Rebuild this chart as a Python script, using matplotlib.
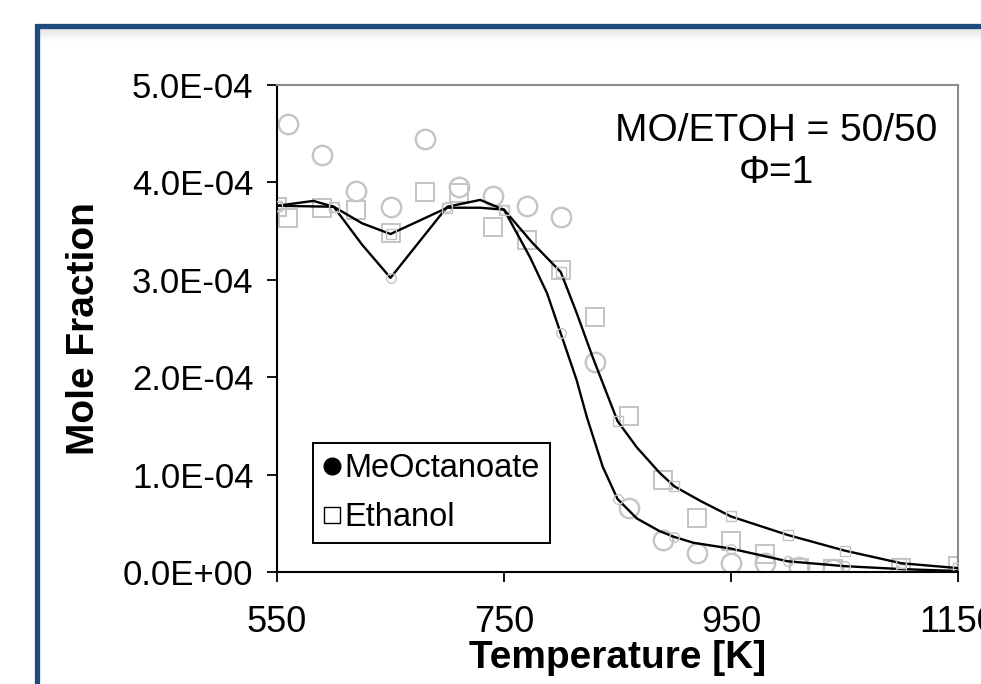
import numpy as np
import matplotlib.pyplot as plt
from matplotlib.lines import Line2D
from matplotlib.patches import Rectangle
from matplotlib.ticker import FuncFormatter

plt.rcParams['font.family'] = ['Liberation Sans', 'DejaVu Sans']

# experimental data (mole fraction in units of 1e-4)
mo_T = [560, 590, 620, 650, 680, 710, 740, 770, 800, 830, 860, 890, 920, 950, 980, 1010, 1040]
mo_X = [4.60, 4.28, 3.91, 3.75, 4.45, 3.95, 3.86, 3.76, 3.64, 2.16, 0.66, 0.33, 0.20, 0.09, 0.09, 0.05, 0.03]

et_T = [550, 560, 590, 620, 650, 680, 710, 740, 770, 800, 830, 860, 890, 920, 950, 980, 1010, 1040, 1100, 1150]
et_X = [3.75, 3.63, 3.74, 3.72, 3.48, 3.90, 3.89, 3.54, 3.41, 3.10, 2.62, 1.60, 0.94, 0.55, 0.32, 0.18, 0.04, 0.03, 0.04, 0.06]

# model curves
modA_T = [550, 582, 600, 625, 650, 676, 700, 729, 750, 773, 788, 800, 814, 823, 837, 850, 867, 887, 900, 917, 950, 1000, 1050, 1100, 1150]
modA_X = [3.76, 3.81, 3.75, 3.36, 3.02, 3.40, 3.75, 3.82, 3.72, 3.23, 2.86, 2.45, 1.97, 1.59, 1.08, 0.75, 0.55, 0.42, 0.36, 0.30, 0.24, 0.11, 0.06, 0.03, 0.01]
modB_T = [550, 600, 625, 650, 676, 700, 729, 750, 775, 800, 814, 828, 850, 867, 887, 900, 923, 950, 1000, 1050, 1100, 1150]
modB_X = [3.76, 3.75, 3.58, 3.47, 3.61, 3.74, 3.74, 3.72, 3.38, 3.08, 2.66, 2.21, 1.55, 1.28, 1.02, 0.88, 0.73, 0.57, 0.38, 0.22, 0.09, 0.04]

scale = 1e-4
W, H = 981, 684

fig = plt.figure(figsize=(W/100, H/100), dpi=100)

# slide frame: shadow + blue border
for i in range(12):
    fig.patches.append(Rectangle((40/W, 1-(29+i+1)/H), 1, 1/H, transform=fig.transFigure,
                                 color='k', alpha=0.10*(1-i/12), lw=0))
fig.add_artist(Line2D([37/W, 37/W, 1.01], [-0.01, 1-26/H, 1-26/H], lw=3.8, color='#1f4a7c',
                      transform=fig.transFigure, solid_joinstyle='miter'))

ax = fig.add_axes([277/W, 1-572/H, (958-277)/W, (572-85)/H])

grey = '#c4c4c4'
ax.plot(mo_T, np.array(mo_X)*scale, 'o', mfc='none', mec=grey, mew=1.7, ms=14, zorder=2)
ax.plot(et_T, np.array(et_X)*scale, 's', mfc='none', mec=grey, mew=1.4, ms=13, zorder=2)

# small markers on the model lines every 50 K
idxA = [modA_T.index(t) for t in range(550, 1151, 50)]
idxB = [modB_T.index(t) for t in range(550, 1151, 50)]
ax.plot(modA_T, np.array(modA_X)*scale, '-', color='black', lw=1.7, marker='o', ms=7,
        mfc='none', mec=grey, markevery=idxA, zorder=3)
ax.plot(modB_T, np.array(modB_X)*scale, '-', color='black', lw=1.7, marker='s', ms=7,
        mfc='none', mec=grey, markevery=idxB, zorder=3)

ax.set_xlim(550, 1150)
ax.set_ylim(0, 5e-4)
ax.set_xticks([550, 750, 950, 1150])
ax.set_yticks(np.arange(0, 5.01e-4, 1e-4))
ax.yaxis.set_major_formatter(FuncFormatter(lambda v, p: f'{v:.1E}'))

for s in ['left', 'bottom']:
    ax.spines[s].set_color('black')
    ax.spines[s].set_linewidth(1.5)
for s in ['top', 'right']:
    ax.spines[s].set_color('#8c8c8c')
    ax.spines[s].set_linewidth(1.5)
ax.spines['bottom'].set_zorder(4)

ax.tick_params(axis='y', direction='out', length=7, width=1.3, pad=10, labelsize=25)
ax.tick_params(axis='x', direction='out', length=7, width=1.3, pad=17, labelsize=26)

ax.set_xlabel('Temperature [K]', fontsize=28, fontweight='bold', labelpad=0)
ax.set_ylabel('Mole Fraction', fontsize=28, fontweight='bold', labelpad=15)

ax.text(0.733, 0.862, 'MO/ETOH = 50/50\n\u03a6=1', transform=ax.transAxes, ha='center', va='center',
        fontsize=28, linespacing=1.2)

handles = [Line2D([], [], ls='none', marker='o', color='black', ms=12),
           Line2D([], [], ls='none', marker='s', mfc='white', mec='black', mew=1.0, ms=12)]
leg = ax.legend(handles, ['MeOctanoate', 'Ethanol'], loc='lower left',
                bbox_to_anchor=(0.053, 0.060), borderaxespad=0, fontsize=23.5,
                handlelength=0.55, handletextpad=0.12, borderpad=0.3, labelspacing=0.55,
                fancybox=False, framealpha=1, edgecolor='black')
leg.get_frame().set_linewidth(1.4)

fig.savefig('out.png', dpi=100)
